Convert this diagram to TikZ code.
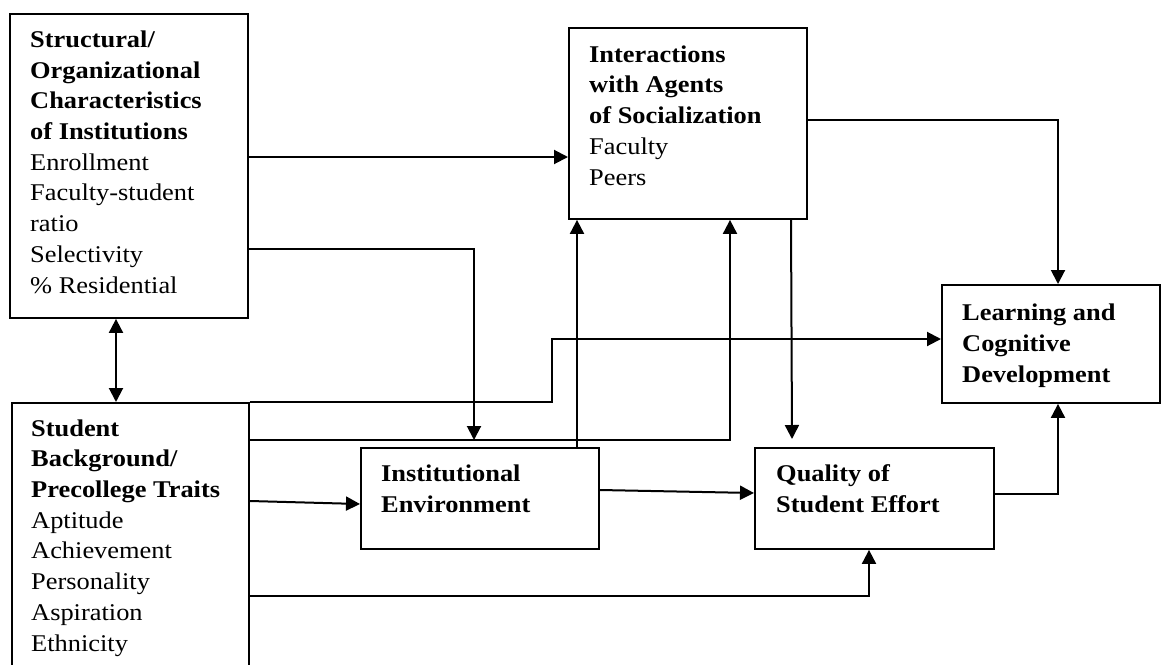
\documentclass[tikz,border=0pt]{standalone}
\usepackage{fontspec}
\setmainfont{Liberation Serif}[FakeStretch=1.1]
\usetikzlibrary{arrows.meta,calc}
\begin{document}
\begin{tikzpicture}[x=1pt,y=-1pt,
  box/.style={draw, line width=1.9pt, inner sep=0pt, anchor=north west},
  txt/.style={anchor=base west, inner sep=0pt, align=left, font=\fontsize{24}{30.7}\selectfont},
  ln/.style={line width=2pt},
  arr/.style={ln, -{Triangle[length=14pt,width=14pt]}},
  darr/.style={ln, {Triangle[length=14pt,width=14pt]}-{Triangle[length=14pt,width=14pt]}}]
\useasboundingbox (0,0) rectangle (1161,664);
% boxes
\node[box, minimum width=238pt, minimum height=304pt] (A) at (9,13) {};
\node[box, minimum width=237pt, minimum height=272pt] (B) at (11,402) {};
\node[box, minimum width=238pt, minimum height=191pt] (I) at (568,27) {};
\node[box, minimum width=218pt, minimum height=118pt] (L) at (941,284) {};
\node[box, minimum width=238pt, minimum height=101pt] (E) at (360,447) {};
\node[box, minimum width=239pt, minimum height=101pt] (Q) at (754,447) {};
% texts (anchored at the baseline of their last line)
\node[txt] (tA) at (30,293) {\textbf{Structural/}\\\textbf{Organizational}\\\textbf{Characteristics}\\\textbf{of Institutions}\\Enrollment\\Faculty-student\\ratio\\Selectivity\\\% Residential};
\node[txt] (tB) at (31,651) {\textbf{Student}\\\textbf{Background/}\\\textbf{Precollege Traits}\\Aptitude\\Achievement\\Personality\\Aspiration\\Ethnicity};
\node[txt] (tI) at (589,185) {\textbf{Interactions}\\\textbf{with Agents}\\\textbf{of Socialization}\\Faculty\\Peers};
\node[txt] (tL) at (962,382) {\textbf{Learning and}\\\textbf{Cognitive}\\\textbf{Development}};
\node[txt] (tE) at (381,512.5) {\textbf{Institutional}\\\textbf{Environment}};
\node[txt] (tQ) at (776,512.5) {\textbf{Quality of}\\\textbf{Student Effort}};
% connectors
\draw[darr] ($(A.south west)+(107,0)$) -- ($(B.north west)+(105,0)$);
\draw[arr] ($(A.north east)+(0,144)$) -- (I.west |- {$(A.north east)+(0,144)$});
\draw[arr] ($(A.north east)+(0,236)$) -| ($(E.north west)+(114,-7)$);
\draw[arr] (B.north east) -- ($(B.north east)+(302,0)$) |- ($(L.north west)+(0,55)$);
\draw[arr] ($(B.north east)+(0,38)$) -| ($(I.south west)+(162,0)$);
\draw[arr] ($(E.north west)+(217,0)$) -- ($(I.south west)+(9,0)$);
\draw[arr] ($(I.south west)+(223,0)$) -- ($(Q.north west)+(38,-8)$);
\draw[arr] ($(I.north east)+(0,93)$) -| ($(L.north west)+(117,0)$);
\draw[arr] ($(B.north east)+(0,99)$) -- ($(E.north west)+(0,57)$);
\draw[arr] ($(E.north east)+(0,43)$) -- ($(Q.north west)+(0,46)$);
\draw[arr] ($(B.north east)+(0,194)$) -| ($(Q.south west)+(115,0)$);
\draw[arr] ($(Q.north east)+(0,47)$) -| ($(L.south west)+(117,0)$);
\end{tikzpicture}
\end{document}
